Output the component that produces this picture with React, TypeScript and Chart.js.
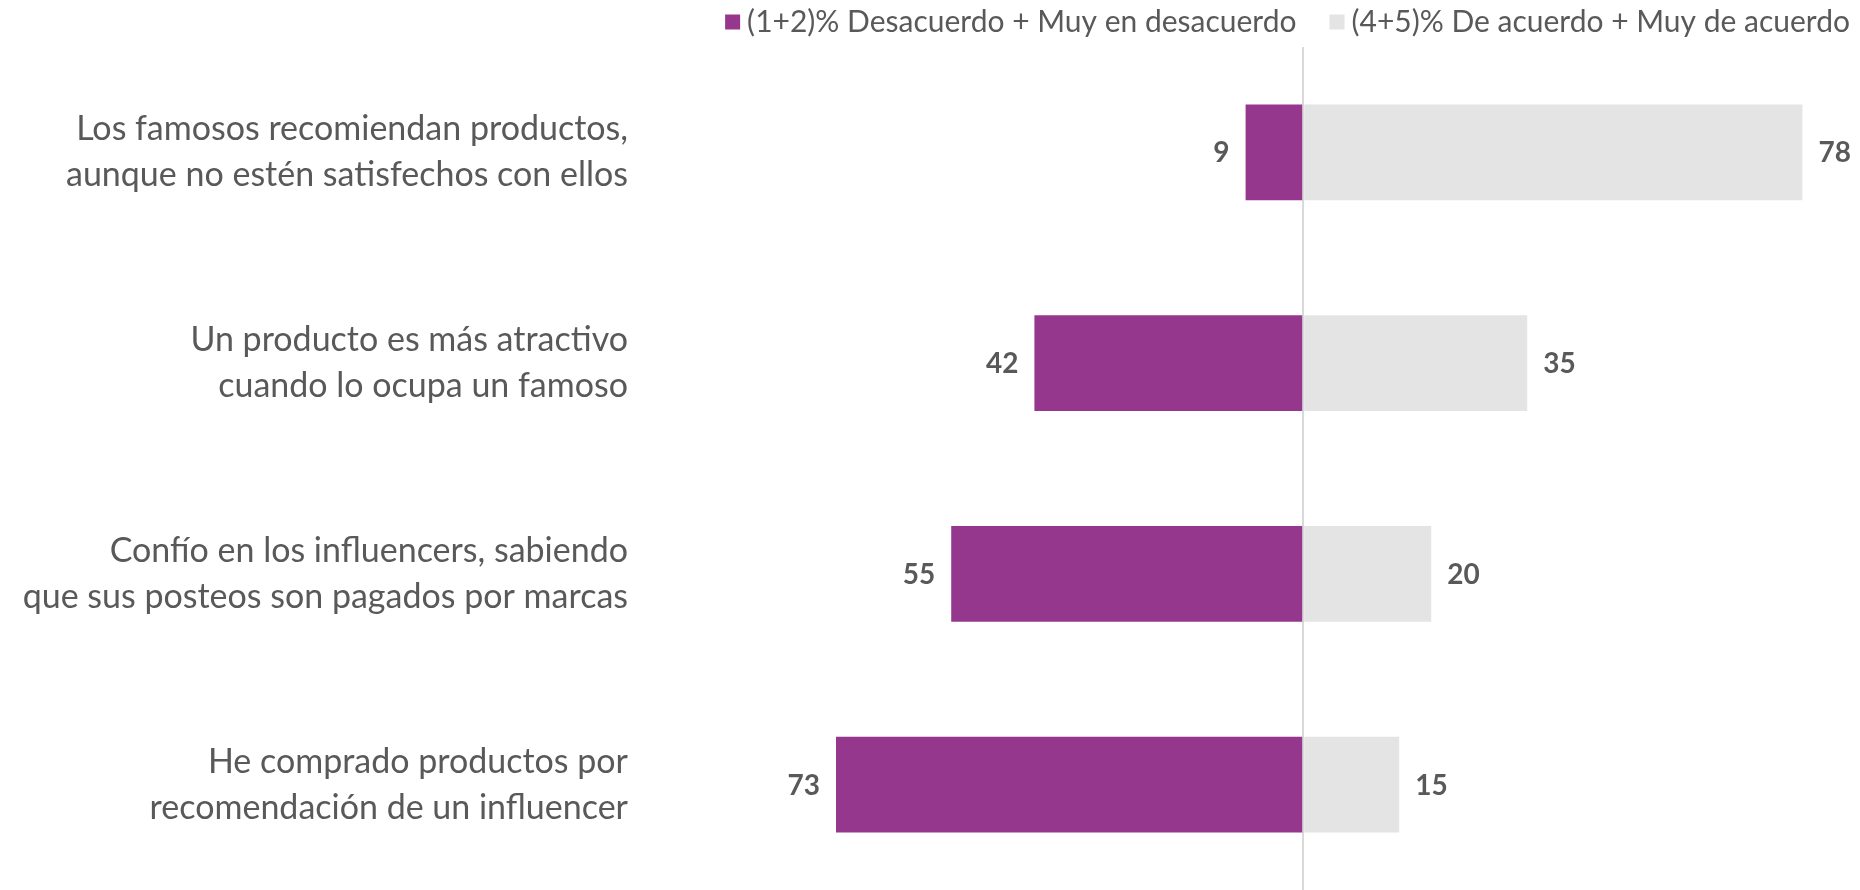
import React, { useEffect, useRef } from "react";
import { Chart, registerables } from "chart.js";

Chart.register(...registerables);

const categories: string[][] = [
  ["Los famosos recomiendan productos,", "aunque no estén satisfechos con ellos"],
  ["Un producto es más atractivo", "cuando lo ocupa un famoso"],
  ["Confío en los influencers, sabiendo", "que sus posteos son pagados por marcas"],
  ["He comprado productos por", "recomendación de un influencer"],
];
const disagreeLabel = "(1+2)% Desacuerdo + Muy en desacuerdo";
const agreeLabel = "(4+5)% De acuerdo + Muy de acuerdo";
const disagree = [9, 42, 55, 73];
const agree = [78, 35, 20, 15];

const PURPLE = "#96378E";
const GREY = "#E4E4E4";
const TEXT = "#595959";
const FONT = "Lato, 'Open Sans', sans-serif";

const valueLabels = {
  id: "valueLabels",
  afterDatasetsDraw(chart: any) {
    const ctx = chart.ctx;
    ctx.save();
    ctx.font = `bold 28px ${FONT}`;
    ctx.fillStyle = TEXT;
    ctx.textBaseline = "middle";
    chart.data.datasets.forEach((ds: any, di: number) => {
      const meta = chart.getDatasetMeta(di);
      meta.data.forEach((el: any, i: number) => {
        const v = ds.data[i];
        if (v < 0) {
          ctx.textAlign = "right";
          ctx.fillText(String(Math.abs(v)), el.x - 16, el.y + 1);
        } else {
          ctx.textAlign = "left";
          ctx.fillText(String(v), el.x + 16, el.y + 1);
        }
      });
    });
    ctx.restore();
  },
};

const customLegend = {
  id: "customLegend",
  afterDraw(chart: any) {
    const ctx = chart.ctx;
    ctx.save();
    ctx.font = `30px ${FONT}`;
    ctx.textBaseline = "middle";
    ctx.textAlign = "left";
    const box = 15;
    const boxGap = 7;
    const itemGap = 33;
    const yMid = 22;
    const items = chart.data.datasets.map((ds: any) => ({
      text: ds.label,
      color: ds.backgroundColor,
      w: ctx.measureText(ds.label).width,
    }));
    let x = 1850;
    for (let i = items.length - 1; i >= 0; i--) {
      const it = items[i];
      const tx = x - it.w;
      const bx = tx - boxGap - box;
      ctx.fillStyle = it.color;
      ctx.fillRect(bx, yMid - box / 2, box, box);
      ctx.fillStyle = TEXT;
      ctx.fillText(it.text, tx, yMid);
      x = bx - itemGap;
    }
    ctx.restore();
  },
};

export default function App() {
  const ref = useRef<HTMLCanvasElement>(null);
  useEffect(() => {
    if (!ref.current) return;
    const chart = new Chart(ref.current, {
      type: "bar",
      data: {
        labels: categories,
        datasets: [
          {
            label: disagreeLabel,
            data: disagree.map((v) => -v),
            backgroundColor: PURPLE,
            categoryPercentage: 1,
            barPercentage: 0.455,
          },
          {
            label: agreeLabel,
            data: agree,
            backgroundColor: GREY,
            categoryPercentage: 1,
            barPercentage: 0.455,
          },
        ],
      },
      options: {
        indexAxis: "y",
        animation: false,
        responsive: false,
        maintainAspectRatio: false,
        layout: { padding: { left: 0, right: 0, top: 47, bottom: 0 } },
        plugins: {
          tooltip: { enabled: false },
          legend: { display: false },
        },
        scales: {
          x: {
            stacked: true,
            min: -100.5,
            max: 87,
            ticks: { display: false },
            border: { display: false },
            grid: {
              drawTicks: false,
              lineWidth: (c: any) => (c.tick && c.tick.value === 0 ? 2 : 0),
              color: (c: any) => (c.tick && c.tick.value === 0 ? "#D9D9D9" : "rgba(0,0,0,0)"),
            },
            afterFit: (s: any) => {
              s.height = 0;
              s.paddingLeft = 0;
              s.paddingRight = 0;
            },
          },
          y: {
            stacked: true,
            border: { display: false },
            grid: { display: false, drawTicks: false },
            afterFit: (s: any) => {
              s.width = 660;
              s.paddingTop = 0;
              s.paddingBottom = 0;
            },
            ticks: {
              padding: 32,
              color: TEXT,
              font: { family: FONT, size: 34, lineHeight: 1.35 },
            },
          },
        },
      },
      plugins: [valueLabels, customLegend],
    });
    return () => chart.destroy();
  }, []);
  return (
    <div style={{ position: "fixed", left: 0, top: 0, width: 1860, height: 890, background: "#fff" }}>
      <canvas ref={ref} width={1860} height={890} style={{ width: 1860, height: 890, display: "block" }} />
    </div>
  );
}
